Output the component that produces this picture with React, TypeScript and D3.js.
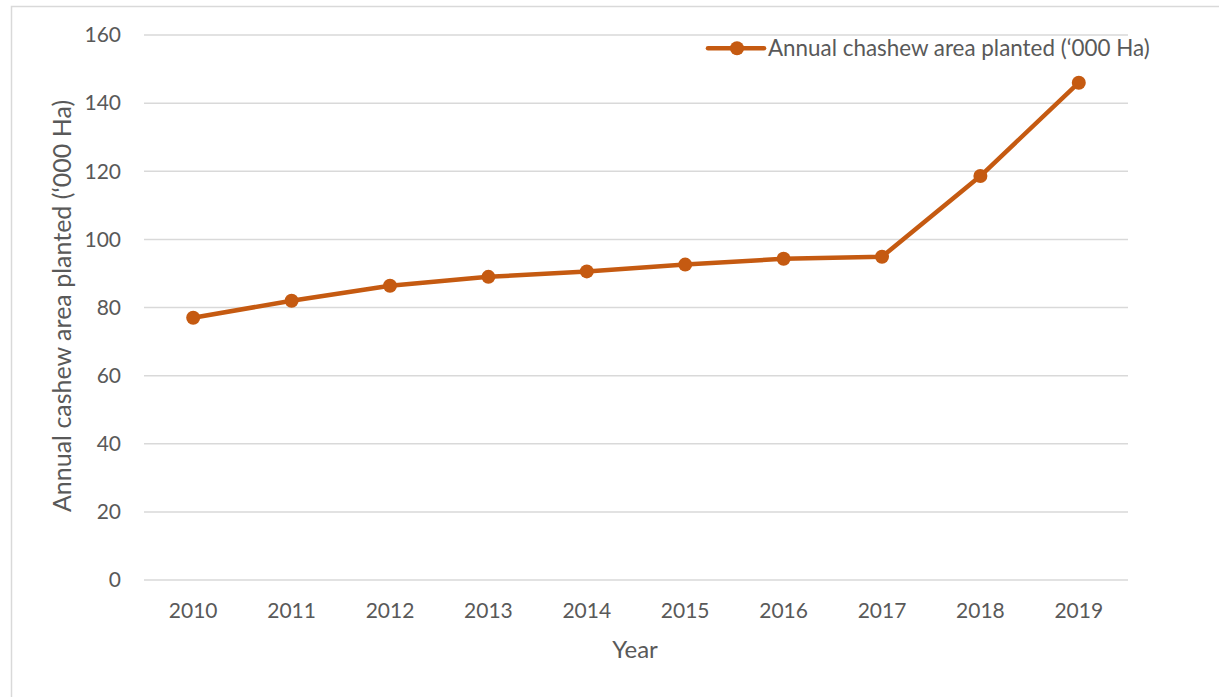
import React from "react";
import * as d3 from "d3";

const years = ["2010", "2011", "2012", "2013", "2014", "2015", "2016", "2017", "2018", "2019"];
const areaPlanted = [77.0, 82.0, 86.4, 89.0, 90.6, 92.6, 94.3, 94.9, 118.6, 146.0];
const yTicks = [0, 20, 40, 60, 80, 100, 120, 140, 160];
const seriesName = "Annual chashew area planted (\u2018000 Ha)";
const yTitle = "Annual cashew area planted (\u2018000 Ha)";
const xTitle = "Year";

const W = 1219;
const H = 697;
const COLOR = "#C55A11";
const GRID = "#D9D9D9";
const TEXT = "#595959";
const FONT = "Lato, 'Open Sans', sans-serif";

export default function App() {
  const x = d3.scaleBand<string>().domain(years).range([144, 1128]).padding(0);
  const y = d3.scaleLinear().domain([0, 160]).range([580, 35]);
  const cx = (d: string) => (x(d) ?? 0) + x.bandwidth() / 2;
  const data = years.map((yr, i) => ({ yr, v: areaPlanted[i] }));
  const line = d3
    .line<{ yr: string; v: number }>()
    .x((d) => cx(d.yr))
    .y((d) => y(d.v));

  return (
    <svg
      width={W}
      height={H}
      style={{ position: "absolute", left: 0, top: 0, background: "#fff" }}
      fontFamily={FONT}
    >
      <rect x={11.5} y={6.5} width={W + 20} height={H + 20} fill="#fff" stroke={GRID} strokeWidth={1.5} />
      {yTicks.map((t) => (
        <g key={t}>
          <line x1={144} x2={1128} y1={y(t)} y2={y(t)} stroke={GRID} strokeWidth={1.5} />
          <text x={121} y={y(t)} dy="0.35em" textAnchor="end" fontSize={21} fill={TEXT}>
            {t}
          </text>
        </g>
      ))}
      {years.map((yr) => (
        <text key={yr} x={cx(yr)} y={618} textAnchor="middle" fontSize={21} fill={TEXT}>
          {yr}
        </text>
      ))}
      <text x={635} y={658} textAnchor="middle" fontSize={24} fill={TEXT}>
        {xTitle}
      </text>
      <text
        transform={`translate(71,306) rotate(-90)`}
        textAnchor="middle"
        fontSize={25}
        fill={TEXT}
      >
        {yTitle}
      </text>
      <path d={line(data) ?? ""} fill="none" stroke={COLOR} strokeWidth={4.5} strokeLinejoin="round" />
      {data.map((d) => (
        <circle key={d.yr} cx={cx(d.yr)} cy={y(d.v)} r={7} fill={COLOR} />
      ))}
      <line x1={708} x2={764} y1={48.3} y2={48.3} stroke={COLOR} strokeWidth={4.5} strokeLinecap="round" />
      <circle cx={737} cy={48.3} r={7} fill={COLOR} />
      <text x={768} y={48.3} dy="0.35em" fontSize={22.4} fill={TEXT}>
        {seriesName}
      </text>
    </svg>
  );
}
